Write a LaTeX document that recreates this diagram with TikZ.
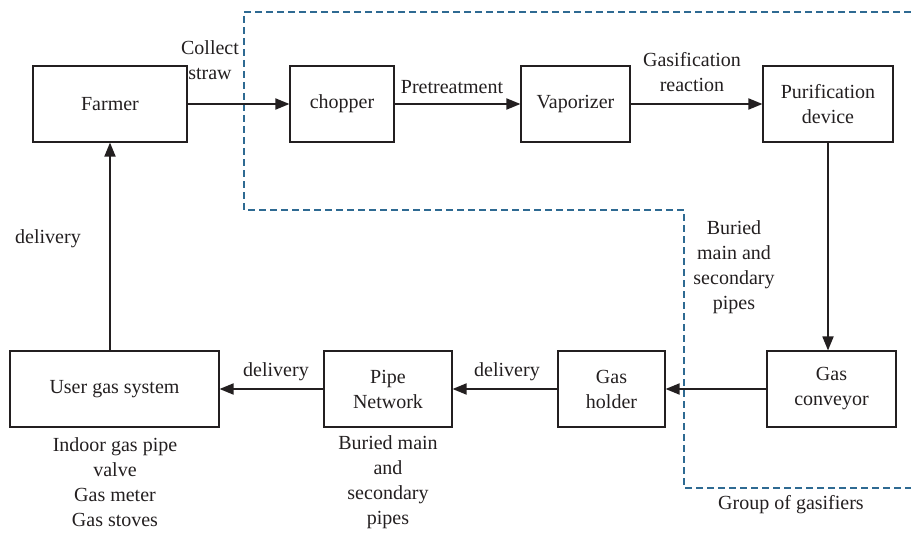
\documentclass[tikz,border=0pt]{standalone}
\usepackage{fontspec}
\setmainfont{Liberation Serif}
\usetikzlibrary{arrows.meta}
\definecolor{inkgray}{HTML}{231F20}
\definecolor{groupblue}{HTML}{2E6A92}
\begin{document}
\begin{tikzpicture}[x=1pt,y=-1pt,
  font=\fontsize{20}{25}\selectfont,
  box/.style={draw=inkgray,line width=1.1pt,minimum height=76pt,align=center,inner sep=2pt,text=inkgray},
  flow/.style={draw=inkgray,line width=1.8pt,-{Triangle[length=14pt,width=11pt]}},
  lbl/.style={align=center,text=inkgray,inner sep=0pt},
  group/.style={draw=groupblue,line width=1.1pt,dash pattern=on 7pt off 4pt}]
\useasboundingbox (0,0) rectangle (911,535);

% process boxes
\node[box,minimum width=154pt] (farmer) at (110,104) {Farmer};
\node[box,minimum width=104pt] (chopper) at (342,104) {chopper};
\node[box,minimum width=109pt] (vapor) at (575.5,104) {Vaporizer};
\node[box,minimum width=130pt] (purif) at (828,104) {Purification\\device};
\node[box,minimum width=129pt] (conv) at (831.5,389) {Gas\\conveyor};
\node[box,minimum width=107pt] (holder) at (611.5,389) {Gas\\holder};
\node[box,minimum width=128pt] (pipe) at (388,389) {Pipe\\Network};
\node[box,minimum width=209pt] (user) at (114.5,389) {User gas system};

% boundary of the gasifier group
\coordinate (g1) at (911,12);
\coordinate (g2) at (244,12);
\coordinate (g3) at (244,210);
\coordinate (g4) at (684,210);
\coordinate (g5) at (684,488);
\coordinate (g6) at (911,488);
\draw[group] (g1) -- (g2) -- (g3) -- (g4) -- (g5) -- (g6);

% material and gas flow
\draw[flow] (farmer) -- (chopper);
\draw[flow] (chopper) -- (vapor);
\draw[flow] (vapor) -- (purif);
\draw[flow] (purif.south) -- (purif.south |- conv.north);
\draw[flow] (conv) -- (holder);
\draw[flow] (holder) -- (pipe);
\draw[flow] (pipe) -- (user);
\draw[flow] (user.north -| farmer.south) -- (farmer.south);

% flow labels
\node[lbl] (l1) at (210,60) {Collect\\straw};
\node[lbl] (l2) at (452,87) {Pretreatment};
\node[lbl] (l3) at (692,72) {Gasification\\reaction};
\node[lbl] (l4) at (48,239) {delivery};
\node[lbl] (l5) at (734,267) {Buried\\main and\\secondary\\pipes};
\node[lbl] (l6) at (276,372) {delivery};
\node[lbl] (l7) at (507,372) {delivery};

% component notes
\node[lbl] (n1) at (115,482) {Indoor gas pipe\\valve\\Gas meter\\Gas stoves};
\node[lbl] (n2) at (388,482) {Buried main\\and\\secondary\\pipes};
\node[lbl] (n3) at (791,505) {Group of gasifiers};
\end{tikzpicture}
\end{document}
